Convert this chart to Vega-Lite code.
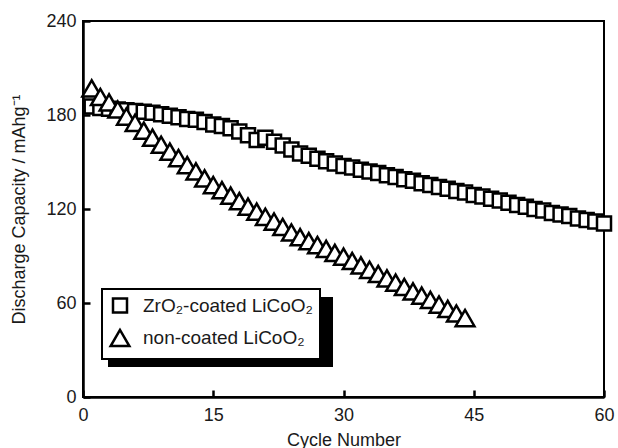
{
  "$schema": "https://vega.github.io/schema/vega-lite/v6.json",
  "width": 521,
  "height": 376,
  "autosize": {"type": "none"},
  "padding": {"left": 83, "top": 21, "right": 14, "bottom": 51},
  "background": "white",
  "config": {
    "font": "Liberation Sans",
    "view": {"stroke": "black", "strokeWidth": 2},
    "axis": {
      "grid": false,
      "domainColor": "black",
      "domainWidth": 2.5,
      "tickColor": "black",
      "tickWidth": 2.5,
      "tickSize": -7,
      "labelFontSize": 18,
      "titleFontSize": 18,
      "titleFontWeight": "normal",
      "labelColor": "#1a1a1a",
      "titleColor": "#1a1a1a",
      "labelFlush": false
    },
    "legend": {
      "orient": "none",
      "legendX": 19,
      "legendY": 268,
      "strokeColor": "black",
      "strokeWidth": 2,
      "fillColor": "white",
      "padding": 7,
      "labelFontSize": 19,
      "labelColor": "#1a1a1a",
      "labelOffset": 12,
      "labelLimit": 400,
      "rowPadding": 6,
      "title": null
    }
  },
  "data": {
    "values": [
      {"cycle": 1, "capacity": 185.5, "sample": "ZrO₂-coated LiCoO₂"},
      {"cycle": 2, "capacity": 184.5, "sample": "ZrO₂-coated LiCoO₂"},
      {"cycle": 3, "capacity": 184, "sample": "ZrO₂-coated LiCoO₂"},
      {"cycle": 4, "capacity": 183.5, "sample": "ZrO₂-coated LiCoO₂"},
      {"cycle": 5, "capacity": 183, "sample": "ZrO₂-coated LiCoO₂"},
      {"cycle": 6, "capacity": 182.5, "sample": "ZrO₂-coated LiCoO₂"},
      {"cycle": 7, "capacity": 182, "sample": "ZrO₂-coated LiCoO₂"},
      {"cycle": 8, "capacity": 181.5, "sample": "ZrO₂-coated LiCoO₂"},
      {"cycle": 9, "capacity": 180.5, "sample": "ZrO₂-coated LiCoO₂"},
      {"cycle": 10, "capacity": 179.5, "sample": "ZrO₂-coated LiCoO₂"},
      {"cycle": 11, "capacity": 178.5, "sample": "ZrO₂-coated LiCoO₂"},
      {"cycle": 12, "capacity": 177.5, "sample": "ZrO₂-coated LiCoO₂"},
      {"cycle": 13, "capacity": 177, "sample": "ZrO₂-coated LiCoO₂"},
      {"cycle": 14, "capacity": 175.5, "sample": "ZrO₂-coated LiCoO₂"},
      {"cycle": 15, "capacity": 174, "sample": "ZrO₂-coated LiCoO₂"},
      {"cycle": 16, "capacity": 173, "sample": "ZrO₂-coated LiCoO₂"},
      {"cycle": 17, "capacity": 171.5, "sample": "ZrO₂-coated LiCoO₂"},
      {"cycle": 18, "capacity": 169.5, "sample": "ZrO₂-coated LiCoO₂"},
      {"cycle": 19, "capacity": 167, "sample": "ZrO₂-coated LiCoO₂"},
      {"cycle": 20, "capacity": 164, "sample": "ZrO₂-coated LiCoO₂"},
      {"cycle": 21, "capacity": 165.5, "sample": "ZrO₂-coated LiCoO₂"},
      {"cycle": 22, "capacity": 163, "sample": "ZrO₂-coated LiCoO₂"},
      {"cycle": 23, "capacity": 160.5, "sample": "ZrO₂-coated LiCoO₂"},
      {"cycle": 24, "capacity": 158, "sample": "ZrO₂-coated LiCoO₂"},
      {"cycle": 25, "capacity": 155.5, "sample": "ZrO₂-coated LiCoO₂"},
      {"cycle": 26, "capacity": 154, "sample": "ZrO₂-coated LiCoO₂"},
      {"cycle": 27, "capacity": 152, "sample": "ZrO₂-coated LiCoO₂"},
      {"cycle": 28, "capacity": 150.5, "sample": "ZrO₂-coated LiCoO₂"},
      {"cycle": 29, "capacity": 149, "sample": "ZrO₂-coated LiCoO₂"},
      {"cycle": 30, "capacity": 147.5, "sample": "ZrO₂-coated LiCoO₂"},
      {"cycle": 31, "capacity": 146.5, "sample": "ZrO₂-coated LiCoO₂"},
      {"cycle": 32, "capacity": 145, "sample": "ZrO₂-coated LiCoO₂"},
      {"cycle": 33, "capacity": 144, "sample": "ZrO₂-coated LiCoO₂"},
      {"cycle": 34, "capacity": 143, "sample": "ZrO₂-coated LiCoO₂"},
      {"cycle": 35, "capacity": 141.5, "sample": "ZrO₂-coated LiCoO₂"},
      {"cycle": 36, "capacity": 140.5, "sample": "ZrO₂-coated LiCoO₂"},
      {"cycle": 37, "capacity": 139, "sample": "ZrO₂-coated LiCoO₂"},
      {"cycle": 38, "capacity": 138, "sample": "ZrO₂-coated LiCoO₂"},
      {"cycle": 39, "capacity": 136.5, "sample": "ZrO₂-coated LiCoO₂"},
      {"cycle": 40, "capacity": 135.3, "sample": "ZrO₂-coated LiCoO₂"},
      {"cycle": 41, "capacity": 134, "sample": "ZrO₂-coated LiCoO₂"},
      {"cycle": 42, "capacity": 133, "sample": "ZrO₂-coated LiCoO₂"},
      {"cycle": 43, "capacity": 131.5, "sample": "ZrO₂-coated LiCoO₂"},
      {"cycle": 44, "capacity": 130.5, "sample": "ZrO₂-coated LiCoO₂"},
      {"cycle": 45, "capacity": 129, "sample": "ZrO₂-coated LiCoO₂"},
      {"cycle": 46, "capacity": 128, "sample": "ZrO₂-coated LiCoO₂"},
      {"cycle": 47, "capacity": 126.5, "sample": "ZrO₂-coated LiCoO₂"},
      {"cycle": 48, "capacity": 125.5, "sample": "ZrO₂-coated LiCoO₂"},
      {"cycle": 49, "capacity": 124, "sample": "ZrO₂-coated LiCoO₂"},
      {"cycle": 50, "capacity": 122.5, "sample": "ZrO₂-coated LiCoO₂"},
      {"cycle": 51, "capacity": 121.5, "sample": "ZrO₂-coated LiCoO₂"},
      {"cycle": 52, "capacity": 120, "sample": "ZrO₂-coated LiCoO₂"},
      {"cycle": 53, "capacity": 119, "sample": "ZrO₂-coated LiCoO₂"},
      {"cycle": 54, "capacity": 117.5, "sample": "ZrO₂-coated LiCoO₂"},
      {"cycle": 55, "capacity": 116.5, "sample": "ZrO₂-coated LiCoO₂"},
      {"cycle": 56, "capacity": 115.5, "sample": "ZrO₂-coated LiCoO₂"},
      {"cycle": 57, "capacity": 114, "sample": "ZrO₂-coated LiCoO₂"},
      {"cycle": 58, "capacity": 113, "sample": "ZrO₂-coated LiCoO₂"},
      {"cycle": 59, "capacity": 112, "sample": "ZrO₂-coated LiCoO₂"},
      {"cycle": 60, "capacity": 110.7, "sample": "ZrO₂-coated LiCoO₂"},
      {"cycle": 1, "capacity": 197, "sample": "non-coated LiCoO₂"},
      {"cycle": 2, "capacity": 191.5, "sample": "non-coated LiCoO₂"},
      {"cycle": 3, "capacity": 188, "sample": "non-coated LiCoO₂"},
      {"cycle": 4, "capacity": 183.5, "sample": "non-coated LiCoO₂"},
      {"cycle": 5, "capacity": 179, "sample": "non-coated LiCoO₂"},
      {"cycle": 6, "capacity": 175, "sample": "non-coated LiCoO₂"},
      {"cycle": 7, "capacity": 170, "sample": "non-coated LiCoO₂"},
      {"cycle": 8, "capacity": 165.5, "sample": "non-coated LiCoO₂"},
      {"cycle": 9, "capacity": 161, "sample": "non-coated LiCoO₂"},
      {"cycle": 10, "capacity": 156.6, "sample": "non-coated LiCoO₂"},
      {"cycle": 11, "capacity": 152.5, "sample": "non-coated LiCoO₂"},
      {"cycle": 12, "capacity": 148, "sample": "non-coated LiCoO₂"},
      {"cycle": 13, "capacity": 144, "sample": "non-coated LiCoO₂"},
      {"cycle": 14, "capacity": 139.5, "sample": "non-coated LiCoO₂"},
      {"cycle": 15, "capacity": 135.3, "sample": "non-coated LiCoO₂"},
      {"cycle": 16, "capacity": 132, "sample": "non-coated LiCoO₂"},
      {"cycle": 17, "capacity": 128.5, "sample": "non-coated LiCoO₂"},
      {"cycle": 18, "capacity": 125, "sample": "non-coated LiCoO₂"},
      {"cycle": 19, "capacity": 121.5, "sample": "non-coated LiCoO₂"},
      {"cycle": 20, "capacity": 118.3, "sample": "non-coated LiCoO₂"},
      {"cycle": 21, "capacity": 115, "sample": "non-coated LiCoO₂"},
      {"cycle": 22, "capacity": 112, "sample": "non-coated LiCoO₂"},
      {"cycle": 23, "capacity": 108.5, "sample": "non-coated LiCoO₂"},
      {"cycle": 24, "capacity": 105, "sample": "non-coated LiCoO₂"},
      {"cycle": 25, "capacity": 102, "sample": "non-coated LiCoO₂"},
      {"cycle": 26, "capacity": 99.5, "sample": "non-coated LiCoO₂"},
      {"cycle": 27, "capacity": 97, "sample": "non-coated LiCoO₂"},
      {"cycle": 28, "capacity": 94.5, "sample": "non-coated LiCoO₂"},
      {"cycle": 29, "capacity": 92, "sample": "non-coated LiCoO₂"},
      {"cycle": 30, "capacity": 89.6, "sample": "non-coated LiCoO₂"},
      {"cycle": 31, "capacity": 86.8, "sample": "non-coated LiCoO₂"},
      {"cycle": 32, "capacity": 84, "sample": "non-coated LiCoO₂"},
      {"cycle": 33, "capacity": 81.2, "sample": "non-coated LiCoO₂"},
      {"cycle": 34, "capacity": 78.5, "sample": "non-coated LiCoO₂"},
      {"cycle": 35, "capacity": 75.7, "sample": "non-coated LiCoO₂"},
      {"cycle": 36, "capacity": 73, "sample": "non-coated LiCoO₂"},
      {"cycle": 37, "capacity": 70.2, "sample": "non-coated LiCoO₂"},
      {"cycle": 38, "capacity": 67.4, "sample": "non-coated LiCoO₂"},
      {"cycle": 39, "capacity": 64.7, "sample": "non-coated LiCoO₂"},
      {"cycle": 40, "capacity": 62, "sample": "non-coated LiCoO₂"},
      {"cycle": 41, "capacity": 59, "sample": "non-coated LiCoO₂"},
      {"cycle": 42, "capacity": 56.2, "sample": "non-coated LiCoO₂"},
      {"cycle": 43, "capacity": 53.3, "sample": "non-coated LiCoO₂"},
      {"cycle": 44, "capacity": 50.4, "sample": "non-coated LiCoO₂"}
    ]
  },
  "layer": [
    {
      "mark": {"type": "rect", "color": "black"},
      "encoding": {
        "x": {"datum": 2.9, "type": "quantitative"},
        "x2": {"datum": 28.7},
        "y": {"datum": 63.8, "type": "quantitative"},
        "y2": {"datum": 19.1}
      }
    },
    {
      "mark": {"type": "point", "filled": false, "fill": "white", "stroke": "black", "strokeWidth": 2.5, "opacity": 1},
      "encoding": {
        "x": {
          "field": "cycle",
          "type": "quantitative",
          "scale": {"domain": [0, 60], "nice": false, "zero": false},
          "axis": {"title": "Cycle Number", "values": [0, 15, 30, 45, 60], "labelPadding": 16, "titlePadding": 7}
        },
        "y": {
          "field": "capacity",
          "type": "quantitative",
          "scale": {"domain": [0, 240], "nice": false},
          "axis": {"title": "Discharge Capacity / mAhg⁻¹", "values": [0, 60, 120, 180, 240], "labelPadding": 14, "titlePadding": 17}
        },
        "shape": {
          "field": "sample",
          "type": "nominal",
          "scale": {"domain": ["ZrO₂-coated LiCoO₂", "non-coated LiCoO₂"], "range": ["square", "triangle-up"]},
          "legend": {
            "symbolFillColor": "white",
            "symbolStrokeColor": "black",
            "symbolStrokeWidth": 2.5,
            "symbolOpacity": 1,
            "encode": {
              "symbols": {
                "update": {
                  "fill": {"value": "white"},
                  "stroke": {"value": "black"},
                  "strokeWidth": {"value": 2.5},
                  "opacity": {"value": 1}
                }
              }
            }
          }
        },
        "size": {
          "field": "sample",
          "type": "nominal",
          "scale": {"domain": ["ZrO₂-coated LiCoO₂", "non-coated LiCoO₂"], "range": [196, 350]}
        }
      }
    }
  ]
}
